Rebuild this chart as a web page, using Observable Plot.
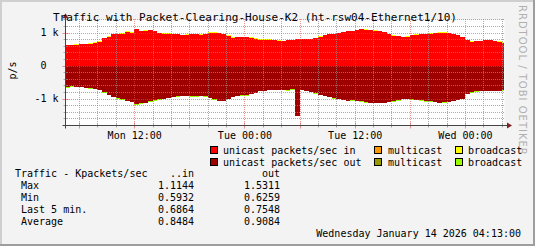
<!DOCTYPE html>
<html><head><meta charset="utf-8">
<script src="https://cdn.jsdelivr.net/npm/d3@7"></script>
<script src="https://cdn.jsdelivr.net/npm/@observablehq/plot@0.6"></script>
<style>
html,body{margin:0;padding:0;background:#f3f3f3;}
#c{position:relative;width:535px;height:246px;background:#f3f3f3;overflow:hidden;}
#c svg{position:absolute;left:0;top:0;}
</style></head><body><div id="c"></div>
<script>
// ---- data (Kpackets/sec), one sample every 30 min from Mon 12 Jan 2026 04:30 ----
const seriesNames = ["uin","min","bin","uout","mout","bout"];
const legendLabels = ["unicast packets/sec in","multicast","broadcast","unicast packets/sec out","multicast","broadcast"];
const seriesColors = ["#ff0000","#ff9900","#ffff00","#9e0000","#999900","#99ff00"];
const unicastIn = [0.62,0.61,0.63,0.65,0.65,0.66,0.69,0.72,0.82,0.87,
 0.94,0.96,0.97,1.03,1.00,1.11,1.05,1.06,1.07,1.04,
 0.98,0.97,0.97,0.96,0.94,0.92,0.93,0.94,0.94,0.93,
 0.95,1.00,1.00,0.98,0.96,0.90,0.84,0.86,0.86,0.85,
 0.84,0.81,0.78,0.78,0.78,0.76,0.75,0.74,0.76,0.77,
 0.79,0.80,0.80,0.80,0.82,0.87,0.92,0.94,0.96,0.98,
 1.01,1.04,1.04,1.08,1.10,1.09,1.07,1.06,1.04,1.02,
 0.96,0.90,0.88,0.85,0.87,0.91,0.93,0.94,0.95,0.97,
 0.98,1.00,1.00,0.98,0.96,0.92,0.85,0.76,0.72,0.73,
 0.74,0.76,0.77,0.74,0.72,0.69];
const multicastIn = [0,0,0,0,0,0,0,0,0,0, 0,0,0,0,0,0,0,0,0,0, 0,0,0,0,0,0,0,0,0,0, 0,0,0,0,0,0,0,0,0,0,
 0,0,0,0,0,0,0,0,0,0, 0,0,0,0,0,0,0,0,0,0, 0,0,0,0,0,0,0,0,0,0, 0,0,0,0,0,0,0,0,0,0,
 0,0,0,0,0,0,0,0,0,0, 0,0,0,0,0,0];
const broadcastIn = [0.01,0.01,0.01,0.01,0.01,0.01,0.01,0.01,0.01,0.01, 0.01,0.01,0.01,0.03,0.01,0.01,0.01,0.01,0.01,0.01,
 0.01,0.01,0.01,0.01,0.01,0.01,0.01,0.01,0.01,0.01, 0.01,0.01,0.01,0.01,0.01,0.01,0.01,0.01,0.01,0.01,
 0.01,0.01,0.01,0.01,0.01,0.01,0.01,0.01,0.01,0.01, 0.01,0.01,0.01,0.01,0.01,0.01,0.01,0.01,0.01,0.01,
 0.01,0.02,0.01,0.01,0.01,0.01,0.01,0.01,0.01,0.01, 0.01,0.01,0.01,0.01,0.01,0.01,0.01,0.01,0.01,0.01,
 0.01,0.01,0.01,0.01,0.01,0.01,0.01,0.01,0.01,0.01, 0.01,0.01,0.01,0.01,0.01,0.01];
const unicastOut = [0.64,0.63,0.64,0.65,0.67,0.69,0.70,0.74,0.81,0.88,
 0.95,0.99,1.02,1.07,1.10,1.16,1.14,1.12,1.08,1.05,
 1.02,1.00,0.98,0.95,0.93,0.92,0.92,0.92,0.92,0.91,
 0.93,0.98,1.02,1.07,1.06,1.01,0.95,0.92,0.89,0.88,
 0.86,0.83,0.77,0.76,0.74,0.74,0.74,0.74,0.73,0.71,
 1.53,0.74,0.77,0.80,0.84,0.88,0.92,0.95,0.99,1.01,
 1.04,1.06,1.05,1.06,1.08,1.10,1.12,1.12,1.12,1.12,
 1.10,1.08,1.04,1.00,1.01,1.02,1.04,1.05,1.07,1.08,
 1.10,1.12,1.11,1.09,1.07,1.03,1.00,0.86,0.80,0.78,
 0.77,0.77,0.77,0.76,0.77,0.75];
const multicastOut = [0,0,0,0,0,0,0,0,0,0, 0,0,0,0,0,0,0,0,0,0, 0,0,0,0,0,0,0,0,0,0, 0,0,0,0,0,0,0,0,0,0,
 0,0,0,0,0,0,0,0,0,0, 0,0,0,0,0,0,0,0,0,0, 0,0,0,0,0,0,0,0,0,0, 0,0,0,0,0,0,0,0,0,0,
 0,0,0,0,0,0,0,0,0,0, 0,0,0,0,0,0];
const broadcastOut = [0.03,0.03,0.01,0.01,0.01,0.01,0.01,0.01,0.01,0.01, 0.01,0.01,0.01,0.01,0.01,0.03,0.02,0.01,0.01,0.01,
 0.01,0.01,0.01,0.01,0.01,0.01,0.01,0.03,0.03,0.01, 0.01,0.01,0.01,0.01,0.01,0.01,0.01,0.01,0.03,0.03,
 0.01,0.01,0.01,0.01,0.01,0.01,0.01,0.01,0.03,0.03, 0.01,0.01,0.01,0.01,0.01,0.01,0.01,0.01,0.03,0.01,
 0.01,0.01,0.01,0.01,0.03,0.03,0.01,0.01,0.01,0.01, 0.01,0.01,0.03,0.01,0.01,0.01,0.01,0.03,0.02,0.01,
 0.01,0.01,0.01,0.01,0.01,0.01,0.01,0.01,0.03,0.03, 0.01,0.01,0.01,0.01,0.01,0.01];

const xTickTimes = [Date.UTC(2026,0,12,12), Date.UTC(2026,0,13,0), Date.UTC(2026,0,13,12), Date.UTC(2026,0,14,0)];
const xTickLabels = ["Mon 12:00","Tue 00:00","Tue 12:00","Wed 00:00"];
const yTicks = [-1, 0, 1];
const yTickLabels = ["-1 k", "0\u00a0\u00a0", "1 k"];

const statsHeader = ["Traffic - Kpackets/sec", "..in", "out"];
const statsNames = ["Max", "Min", "Last 5 min.", "Average"];
const statsIn = ["1.1144", "0.5932", "0.6864", "0.8484"];
const statsOut = ["1.5311", "0.6259", "0.7548", "0.9084"];
const titleText = "Traffic with Packet-Clearing-House-K2 (ht-rsw04-Ethernet1/10)";
const footerText = "Wednesday January 14 2026 04:13:00";
const yLabel = "p/s";
const watermark = "RRDTOOL / TOBI OETIKER";

// ---- build table ----
const T0 = Date.UTC(2026,0,12,4,30);
const STEP = 30*60*1000;
const xStart = new Date(Date.UTC(2026,0,12,4,28));
const xEnd = new Date(Date.UTC(2026,0,14,4,15));
const seriesValues = [unicastIn, multicastIn, broadcastIn, unicastOut, multicastOut, broadcastOut];
const rows = [];
seriesValues.forEach((vals, s) => {
  const sign = s < 3 ? 1 : -1;
  vals.forEach((v, i) => rows.push({t: new Date(T0 + i*STEP), v: sign*v, s: seriesNames[s]}));
  rows.push({t: xEnd, v: sign*vals[vals.length-1], s: seriesNames[s]});
});

const majorX = d3.utcHour.every(6).range(xStart, xEnd);
const minorX = d3.utcHour.every(2).range(xStart, xEnd).filter(d => d.getUTCHours() % 6 !== 0);
const minorY = d3.range(-9, 8).map(k => +(k*0.2).toFixed(1)).filter(v => !Number.isInteger(v));
const xLab = new Map(xTickTimes.map((t, i) => [t, xTickLabels[i]]));
const yLab = new Map(yTicks.map((t, i) => [t, yTickLabels[i]]));

const GRID = "rgba(143,143,143,0.75)", MGRID = "rgba(222,79,79,0.6)";
const FONT = "DejaVu Sans Mono";

const chart = Plot.plot({
  width: 535, height: 246,
  marginLeft: 65, marginRight: 31, marginTop: 19.3, marginBottom: 121,
  style: {background: "transparent", fontFamily: FONT, fontSize: "10px", color: "#000", overflow: "visible"},
  x: {type: "utc", domain: [xStart, xEnd]},
  y: {domain: [-1.8, 1.4]},
  color: {domain: seriesNames, range: seriesColors},
  marks: [
    Plot.frame({fill: "#fff", stroke: "none"}),
    Plot.areaY(rows, {x: "t", y: "v", z: "s", fill: "s", curve: "step-after", shapeRendering: "crispEdges"}),
    Plot.ruleY(minorY, {stroke: GRID, strokeDasharray: "1,1", shapeRendering: "crispEdges"}),
    Plot.ruleX(minorX, {stroke: GRID, strokeDasharray: "1,1", shapeRendering: "crispEdges"}),
    Plot.ruleY(yTicks, {stroke: MGRID, strokeDasharray: "1,1", shapeRendering: "crispEdges"}),
    Plot.ruleX(majorX, {stroke: MGRID, strokeDasharray: "1,1", shapeRendering: "crispEdges"}),
    Plot.axisX(xTickTimes.map(t => new Date(t)), {tickSize: 0, tickPadding: 6, label: null, tickFormat: d => xLab.get(+d), fontSize: 10, fill: "#000"}),
    Plot.axisY(yTicks, {tickSize: 0, tickPadding: 7, label: null, tickFormat: d => yLab.get(d), fontSize: 10, fill: "#000"})
  ]
});
document.getElementById("c").appendChild(chart);

// ---- decorations (axes, frame, texts) ----
const svg = d3.select(chart);
const xs = chart.scale("x"), ys = chart.scale("y");
const X = d => xs.apply(d), Y = d => ys.apply(d);
const x0 = Math.round(X(xStart)) + 0.5, x1 = X(xEnd), yb = Math.round(Y(-1.8)) + 0.5, yt = Y(1.4);
const g = svg.append("g");
// frame
g.append("rect").attr("x", 0).attr("y", 0).attr("width", 535).attr("height", 2).attr("fill", "#cfcfcf");
g.append("rect").attr("x", 0).attr("y", 0).attr("width", 2).attr("height", 246).attr("fill", "#cfcfcf");
g.append("rect").attr("x", 533).attr("y", 0).attr("width", 2).attr("height", 246).attr("fill", "#9e9e9e");
g.append("rect").attr("x", 0).attr("y", 244).attr("width", 535).attr("height", 2).attr("fill", "#9e9e9e");
// axis ticks
minorX.forEach(d => g.append("line").attr("x1", Math.round(X(d))+0.5).attr("x2", Math.round(X(d))+0.5).attr("y1", yb+2).attr("y2", yb-2).attr("stroke", GRID));
majorX.forEach(d => g.append("line").attr("x1", Math.round(X(d))+0.5).attr("x2", Math.round(X(d))+0.5).attr("y1", yb+3).attr("y2", yb-3).attr("stroke", MGRID));
minorY.forEach(v => g.append("line").attr("y1", Math.round(Y(v))+0.5).attr("y2", Math.round(Y(v))+0.5).attr("x1", x0-2).attr("x2", x0+2).attr("stroke", GRID));
yTicks.forEach(v => g.append("line").attr("y1", Math.round(Y(v))+0.5).attr("y2", Math.round(Y(v))+0.5).attr("x1", x0-3).attr("x2", x0+3).attr("stroke", MGRID));
// axes
g.append("line").attr("x1", x0-3).attr("x2", x1+4).attr("y1", yb).attr("y2", yb).attr("stroke", "#444");
g.append("line").attr("x1", x0).attr("x2", x0).attr("y1", yb+3).attr("y2", yt-2).attr("stroke", "#444");
g.append("path").attr("d", `M${x1+3},${yb-3}L${x1+8},${yb}L${x1+3},${yb+3}Z`).attr("fill", "#801f1f");
g.append("path").attr("d", `M${x0-3},${yt-1}L${x0},${yt-6}L${x0+3},${yt-1}Z`).attr("fill", "#801f1f");

const T = (x, y, s, o = {}) => g.append("text").attr("x", x).attr("y", y).text(s)
  .attr("font-family", o.family || FONT).attr("font-size", o.size || 10).attr("fill", o.fill || "#000")
  .attr("text-anchor", o.anchor || "start").attr("transform", o.transform || null)
  .attr("letter-spacing", o.ls || null).style("white-space", "pre");
T(53, 21, titleText, {size: 11});
T(0, 0, yLabel, {anchor: "middle", transform: "translate(15.5,70.5) rotate(-90)"});
T(0, 0, watermark, {family: "DejaVu Sans", size: 10, fill: "#b0b0b0", ls: 1, transform: "translate(519,5) rotate(90)"});
// legend
const legX = [[210, 223], [374, 388], [455, 468]];
const legY = [154, 166];
legendLabels.forEach((lab, i) => {
  const r = Math.floor(i / 3), c = i % 3;
  g.append("rect").attr("x", legX[c][0] + 0.5).attr("y", legY[r] - 7.5).attr("width", 7).attr("height", 7)
    .attr("fill", seriesColors[i]).attr("stroke", "#000");
  T(legX[c][1], legY[r], lab);
});
// stats
T(15, 177, statsHeader[0]);
T(194, 177, statsHeader[1], {anchor: "end"});
T(280, 177, statsHeader[2], {anchor: "end"});
statsNames.forEach((n, i) => {
  const y = 189 + i*12;
  T(21, y, n);
  T(194, y, statsIn[i], {anchor: "end"});
  T(280, y, statsOut[i], {anchor: "end"});
});
T(521, 237, footerText, {anchor: "end"});
</script></body></html>
